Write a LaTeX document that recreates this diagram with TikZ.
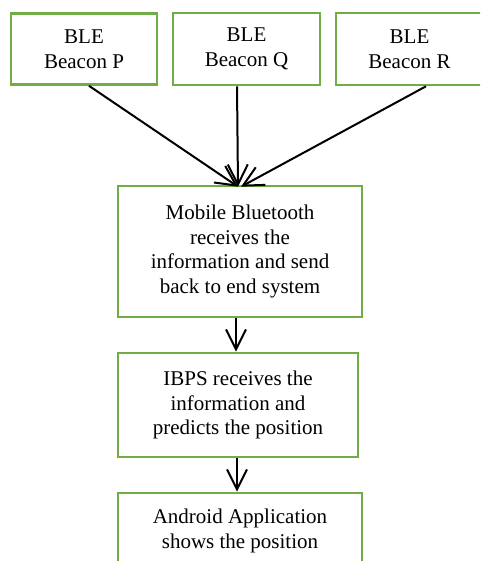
\documentclass[tikz,border=0pt]{standalone}
\usepackage{fontspec}
\setmainfont{Liberation Serif}
\usetikzlibrary{arrows.meta}
\definecolor{boxgreen}{RGB}{112,173,71}
\begin{document}
\begin{tikzpicture}[x=1pt,y=-1pt,
  flowbox/.style={draw=boxgreen, line width=2.6pt, fill=white, align=center,
    inner sep=0pt, font=\fontsize{21}{24.5}\selectfont},
  flowarrow/.style={line width=2pt, -{Straight Barb[length=20pt,width=20pt,line width=2pt]}}]
  \useasboundingbox (0,0) rectangle (480,561);
  \clip (0,0) rectangle (480,561);
  \fill[white] (0,0) rectangle (480,561);

  % beacons
  \node[flowbox, minimum width=146pt, minimum height=71pt] (P) at (84,49) {BLE\\Beacon P};
  \node[flowbox, minimum width=147pt, minimum height=72pt] (Q) at (246.5,49) {BLE\\Beacon Q};
  \node[flowbox, minimum width=147pt, minimum height=72pt] (R) at (409.5,49) {BLE\\Beacon R};

  % processing chain
  \node[flowbox, minimum width=244pt, minimum height=131pt] (M) at (240,251.5)
    {Mobile Bluetooth\\receives the\\information and send\\back to end system};
  \node[flowbox, minimum width=240pt, minimum height=104pt] (I) at (238,405)
    {IBPS receives the\\information and\\predicts the position};
  \node[flowbox, minimum width=244pt, minimum height=76pt] (A) at (240,531)
    {Android Application\\shows the position};

  % connectors
  \coordinate (tip) at ([xshift=-2pt,yshift=-2pt]M.north);
  \draw[flowarrow] ([xshift=5pt]P.south) -- (tip);
  \draw[flowarrow] ([xshift=-9.5pt]Q.south) -- (tip);
  \draw[flowarrow] ([xshift=16.5pt]R.south) -- ([xshift=3pt]tip);
  \draw[flowarrow] ([xshift=-4pt]M.south) -- ([xshift=-2pt]I.north);
  \draw[flowarrow] ([xshift=-1pt]I.south) -- ([xshift=-3pt]A.north);
\end{tikzpicture}
\end{document}
